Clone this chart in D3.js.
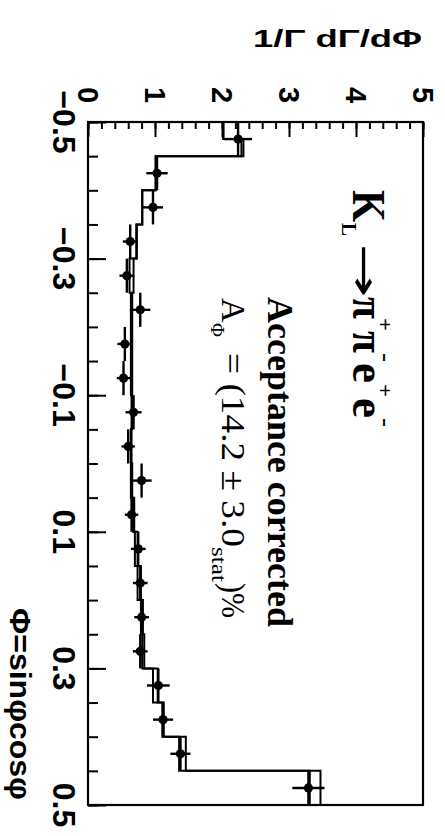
<!DOCTYPE html>
<html><head><meta charset="utf-8">
<script src="https://cdn.jsdelivr.net/npm/d3@7"></script>
<style>body{margin:0;background:#fff}svg{display:block}</style>
</head><body>
<svg id="c" width="445" height="836"></svg>
<script>
// ---- data ----
const binEdges = [-0.5,-0.45,-0.4,-0.35,-0.3,-0.25,-0.2,-0.15,-0.1,-0.05,0,0.05,0.1,0.15,0.2,0.25,0.3,0.35,0.4,0.45,0.5];
const dataValues = [2.24,1.03,0.97,0.63,0.58,0.78,0.55,0.53,0.68,0.60,0.80,0.65,0.75,0.78,0.80,0.78,1.05,1.12,1.38,3.29];
const dataErrors = [0.21,0.16,0.15,0.11,0.11,0.15,0.11,0.10,0.12,0.10,0.15,0.10,0.11,0.11,0.11,0.11,0.17,0.15,0.15,0.24];
const mcEdges = [-0.5,-0.475,-0.45,-0.4,-0.35,-0.3,-0.25,-0.2,-0.15,-0.1,-0.05,0,0.05,0.1,0.15,0.2,0.25,0.3,0.35,0.4,0.45,0.5];
const mcLow  = [2.02,2.29,1.01,0.81,0.72,0.62,0.64,0.64,0.64,0.65,0.64,0.64,0.67,0.70,0.74,0.79,0.81,0.97,1.11,1.36,3.31];
const mcHigh = [2.02,2.32,1.01,0.81,0.73,0.68,0.66,0.66,0.66,0.66,0.65,0.66,0.69,0.74,0.79,0.82,0.84,1.04,1.13,1.46,3.47];
const valueTicks = [0,1,2,3,4,5];
const valueLabels = ["0","1","2","3","4","5"];
const phiTicks = [-0.5,-0.3,-0.1,0.1,0.3,0.5];
const phiLabels = ["\u22120.5","\u22120.3","\u22120.1","0.1","0.3","0.5"];

const svg = d3.select("#c");
const L = 88, R = 423, T = 122, B = 805;
const vx = d3.scaleLinear().domain([0,5]).range([L,R]);
const py = d3.scaleLinear().domain([-0.5,0.5]).range([T,B]);
const sans = "Liberation Sans, Arial, sans-serif";
const serif = "Liberation Serif, Times New Roman, serif";

// frame
svg.append("rect").attr("x",L).attr("y",T).attr("width",R-L).attr("height",B-T)
  .attr("fill","none").attr("stroke","#000").attr("stroke-width",2.2);

// value axis ticks (top edge, pointing into the plot)
const vMinor = d3.range(0,5.001,0.2).map(d=>+d.toFixed(1));
svg.append("g").attr("transform",`translate(0,${T})`)
  .call(d3.axisBottom(vx).tickValues(vMinor).tickSize(7).tickFormat(""))
  .call(g=>{g.select(".domain").remove();g.selectAll("line").attr("stroke-width",2);});
svg.append("g").attr("transform",`translate(0,${T})`)
  .call(d3.axisBottom(vx).tickValues(valueTicks).tickSize(15).tickFormat(""))
  .call(g=>{g.select(".domain").remove();g.selectAll("line").attr("stroke-width",2);});

// phi axis ticks (left edge, pointing into the plot)
const pMinor = d3.range(-0.5,0.5001,0.05).map(d=>+d.toFixed(2));
svg.append("g").attr("transform",`translate(${L},0)`)
  .call(d3.axisRight(py).tickValues(pMinor).tickSize(10).tickFormat(""))
  .call(g=>{g.select(".domain").remove();g.selectAll("line").attr("stroke-width",2);});
svg.append("g").attr("transform",`translate(${L},0)`)
  .call(d3.axisRight(py).tickValues(phiTicks).tickSize(18).tickFormat(""))
  .call(g=>{g.select(".domain").remove();g.selectAll("line").attr("stroke-width",2);});

// tick labels (rotated)
svg.append("g").selectAll("text").data(valueTicks).join("text")
  .attr("transform",d=>`translate(${vx(d)},95) rotate(90)`)
  .attr("text-anchor","middle").attr("dy","0.36em")
  .attr("font-family",sans).attr("font-weight","bold")
  .attr("font-size",29).text((d,i)=>valueLabels[i]);
svg.append("g").selectAll("text").data(phiTicks).join("text")
  .attr("transform",d=>`translate(65,${py(d)}) rotate(90)`)
  .attr("text-anchor","middle").attr("dy","0.36em")
  .attr("font-family",sans).attr("font-weight","bold")
  .attr("font-size",32).text((d,i)=>phiLabels[i]);

// axis titles
svg.append("text").attr("x",253).attr("y",47)
  .attr("font-family",sans).attr("font-weight","bold")
  .attr("font-size",23).attr("textLength",169).attr("lengthAdjust","spacingAndGlyphs")
  .text("1/\u0393 d\u0393/d\u03A6");
svg.append("text").attr("transform","translate(10,800) rotate(90)")
  .attr("text-anchor","end")
  .attr("font-family",sans).attr("font-weight","bold")
  .attr("font-size",30).attr("textLength",192).attr("lengthAdjust","spacingAndGlyphs")
  .text("\u03A6=sin\u03C6cos\u03C6");

// MC histogram (lower and upper step outlines)
function stepPts(vals){
  const pts=[[mcEdges[0],0]];
  vals.forEach((v,i)=>{pts.push([mcEdges[i],v]);pts.push([mcEdges[i+1],v]);});
  pts.push([mcEdges[mcEdges.length-1],0]);
  return pts;
}
const stepLine = d3.line().x(d=>vx(d[1])).y(d=>py(d[0]));
[mcLow,mcHigh].forEach(vals=>{
  svg.append("path").attr("d",stepLine(stepPts(vals)))
    .attr("fill","none").attr("stroke","#000").attr("stroke-width",2);
});

// data points
const pts = dataValues.map((v,i)=>({lo:binEdges[i],hi:binEdges[i+1],c:(binEdges[i]+binEdges[i+1])/2,v,e:dataErrors[i]}));
const gp = svg.append("g").attr("stroke","#000").attr("stroke-width",2.4);
gp.selectAll(".eb").data(pts).join("line").attr("class","eb")
  .attr("x1",d=>vx(d.v)).attr("x2",d=>vx(d.v)).attr("y1",d=>py(d.lo)).attr("y2",d=>py(d.hi));
gp.selectAll(".ev").data(pts).join("line").attr("class","ev")
  .attr("x1",d=>vx(d.v-d.e)).attr("x2",d=>vx(d.v+d.e)).attr("y1",d=>py(d.c)).attr("y2",d=>py(d.c));
svg.append("g").selectAll("circle").data(pts).join("circle")
  .attr("cx",d=>vx(d.v)).attr("cy",d=>py(d.c)).attr("r",4.6).attr("fill","#000");

// annotations: each piece placed along the rotated reading direction
function rtext(x,y,str,size,opts={}){
  const t = svg.append("text").attr("transform",`translate(${x},${y}) rotate(90)`)
    .attr("font-family",opts.family||serif).attr("font-size",size).text(str);
  if(opts.bold) t.attr("font-weight","bold");
  if(opts.len) t.attr("textLength",opts.len).attr("lengthAdjust","spacingAndGlyphs");
  return t;
}
// K_L -> pi+ pi- e+ e-
rtext(353,190,"K",46,{bold:true,len:32});
rtext(342,223,"L",22,{bold:true,len:13});
rtext(351,244,"\u2192",40,{len:54,family:"DejaVu Sans, sans-serif"});
rtext(353,297,"\u03C0",46,{bold:true,len:22});
rtext(378,318,"+",22,{bold:true,len:13});
rtext(353,331,"\u03C0",46,{bold:true,len:22});
rtext(378,353,"-",24,{bold:true,len:9});
rtext(353,363,"e",46,{bold:true,len:20});
rtext(378,384,"+",22,{bold:true,len:13});
rtext(353,398,"e",46,{bold:true,len:20});
rtext(378,418,"-",24,{bold:true,len:9});

rtext(268,297,"Acceptance corrected",35,{bold:true,len:330});

rtext(222,298,"A",34);
rtext(211,323,"\u03A6",19);
rtext(222,353,"= (14.2 \u00B1 3.0",34,{len:194});
rtext(212,547,"stat",22,{len:35});
rtext(222,583,")%",34,{len:35});
</script>
</body></html>
